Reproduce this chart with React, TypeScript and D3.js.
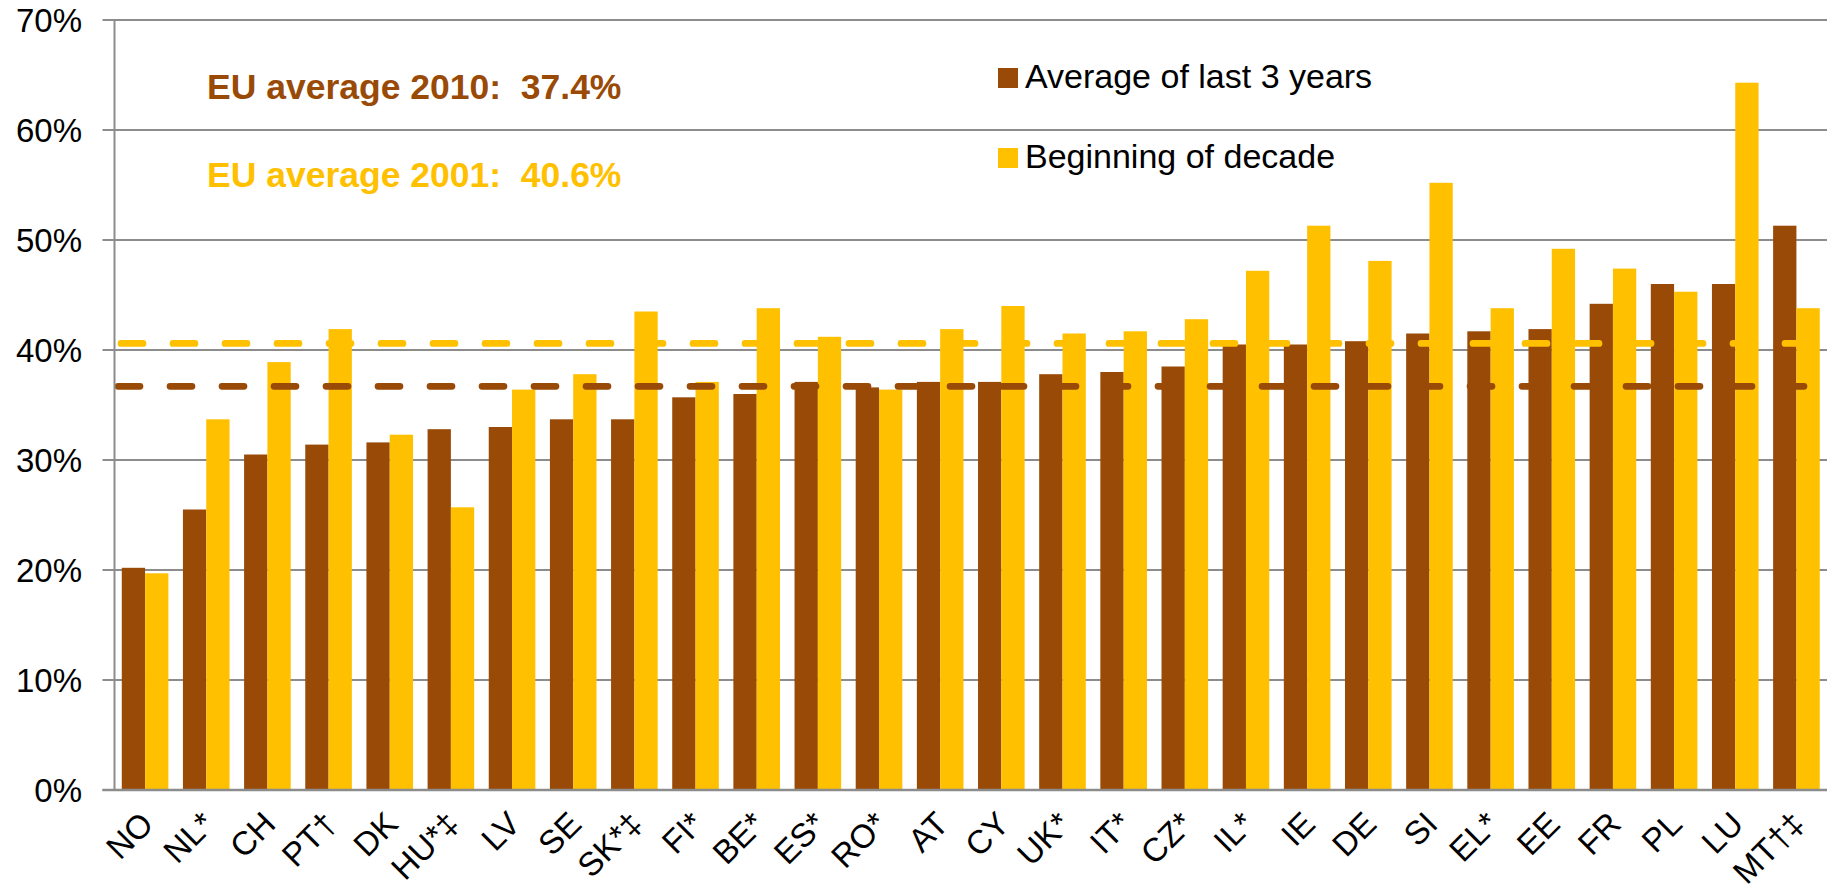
import * as d3 from "d3";

// countries, in the order they are drawn
const categories = [
  "NO", "NL*", "CH", "PT†", "DK", "HU*‡", "LV", "SE", "SK*‡", "FI*", "BE*", "ES*", "RO*", "AT",
  "CY", "UK*", "IT*", "CZ*", "IL*", "IE", "DE", "SI", "EL*", "EE", "FR", "PL", "LU", "MT†‡",
];

// Average of last 3 years (%)
const lastThreeYears = [
  20.2, 25.5, 30.5, 31.4, 31.6, 32.8, 33.0, 33.7, 33.7, 35.7, 36.0, 37.1, 36.6, 37.1,
  37.1, 37.8, 38.0, 38.5, 40.5, 40.5, 40.8, 41.5, 41.7, 41.9, 44.2, 46.0, 46.0, 51.3,
];

// Beginning of decade (%)
const beginningOfDecade = [
  19.7, 33.7, 38.9, 41.9, 32.3, 25.7, 36.4, 37.8, 43.5, 37.1, 43.8, 41.2, 36.4, 41.9,
  44.0, 41.5, 41.7, 42.8, 47.2, 51.3, 48.1, 55.2, 43.8, 49.2, 47.4, 45.3, 64.3, 43.8,
];

const seriesNames = ["Average of last 3 years", "Beginning of decade"];
const yTicks = [0, 10, 20, 30, 40, 50, 60, 70];

// the two EU reference lines, as drawn, and the labels printed above
const euLines = [36.7, 40.6];
const euLabels = ["EU average 2010:\u00a0 37.4%", "EU average 2001:\u00a0 40.6%"];

const BROWN = "#994a07";
const GOLD = "#ffc000";
const GRID = "#8c8c8c";
const colors = [BROWN, GOLD];

const width = 1833;
const height = 891;
const margin = { top: 20, right: 6, bottom: 101, left: 114.5 };
const font = "'Liberation Sans', Arial, sans-serif";

export default function App() {
  const x = d3.scaleBand()
    .domain(categories)
    .range([margin.left, width - margin.right])
    .paddingInner(0.238)
    .paddingOuter(0.119);

  const xInner = d3.scaleBand()
    .domain(seriesNames)
    .range([0, x.bandwidth()]);

  const y = d3.scaleLinear()
    .domain([0, 70])
    .range([height - margin.bottom, margin.top]);

  const series = [lastThreeYears, beginningOfDecade];
  const x0 = margin.left;
  const x1 = width - margin.right;

  return (
    <div>
      <style>{`body{margin:0}`}</style>
      <svg width={width} height={height} style={{ display: "block", fontFamily: font }}>
        {/* gridlines + ticks */}
        {yTicks.map(t => (
          <g key={t}>
            <line x1={x0 - 12} x2={x1} y1={y(t)} y2={y(t)} stroke={GRID} strokeWidth={2} />
            <text x={82} y={y(t)} dy="0.36em" textAnchor="end" fontSize={33} fill="#000">
              {t}%
            </text>
          </g>
        ))}

        {/* bars */}
        {series.map((vals, s) => (
          <g key={s} fill={colors[s]}>
            {vals.map((v, i) => (
              <rect
                key={i}
                x={x(categories[i])! + xInner(seriesNames[s])!}
                y={y(v)}
                width={xInner.bandwidth()}
                height={y(0) - y(v)}
              />
            ))}
          </g>
        ))}

        {/* EU average dashed lines */}
        {euLines.map((v, i) => (
          <line
            key={i}
            x1={x0 + 3.5 + i * 3}
            x2={x1}
            y1={y(v)}
            y2={y(v)}
            stroke={colors[i]}
            strokeWidth={6.7}
            strokeLinecap="round"
            strokeDasharray="22 30"
          />
        ))}

        {/* axes */}
        <line x1={x0} x2={x0} y1={y(70)} y2={y(0)} stroke={GRID} strokeWidth={2} />
        <line x1={x0 - 12} x2={x1} y1={y(0)} y2={y(0)} stroke={GRID} strokeWidth={2.5} />

        {/* category labels */}
        {categories.map(c => {
          const cx = x(c)! + x.bandwidth() / 2;
          return (
            <text
              key={c}
              transform={`translate(${cx + 10},${y(0) + 36}) rotate(-45)`}
              textAnchor="end"
              fontSize={33}
              fill="#000"
            >
              {c}
            </text>
          );
        })}

        {/* EU average annotations */}
        {euLabels.map((t, i) => (
          <text
            key={i}
            x={207}
            y={i === 0 ? 99 : 186.5}
            fontSize={35.5}
            fontWeight="bold"
            fill={colors[i]}
            style={{ whiteSpace: "pre" }}
          >
            {t}
          </text>
        ))}

        {/* legend */}
        {seriesNames.map((n, i) => (
          <g key={n} transform={`translate(998,${i === 0 ? 68 : 148})`}>
            <rect width={20} height={20} fill={colors[i]} />
            <text x={27} y={20} fontSize={34} fill="#000">{n}</text>
          </g>
        ))}
      </svg>
    </div>
  );
}
